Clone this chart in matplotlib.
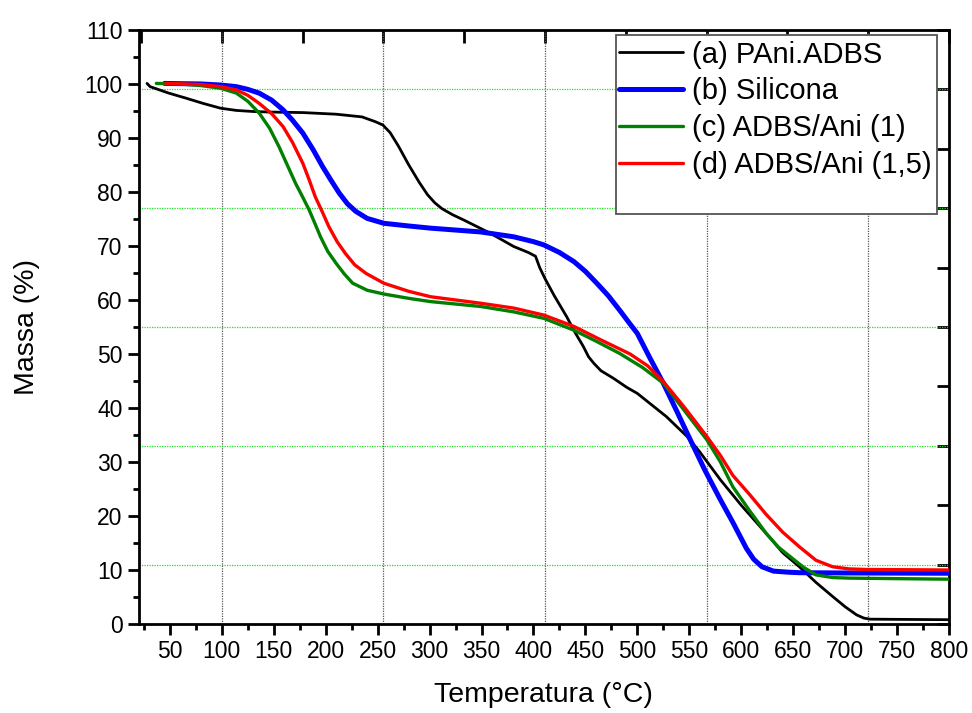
import numpy as np
import matplotlib
matplotlib.use('Agg')
from matplotlib import pyplot as plt
from matplotlib.patches import Rectangle
from matplotlib.ticker import MultipleLocator, NullFormatter

plt.rcParams['font.family'] = ['Liberation Sans', 'DejaVu Sans']

# (a) PAni.ADBS
t_a = [28, 31, 49, 65, 82, 99, 114, 130, 146, 178, 210, 235, 248, 255, 262, 270, 280, 290, 298,
       305, 312, 322, 333, 359, 381, 395, 402, 406, 411, 420, 432, 440, 448, 453, 458, 465, 477,
       490, 500, 528, 548, 560, 580, 600, 628, 640, 656, 672, 688, 700, 711, 718, 724, 760, 800]
m_a = [100.1, 99.5, 98.3, 97.4, 96.4, 95.5, 95.1, 94.9, 94.8, 94.7, 94.4, 93.9, 93.0, 92.4,
       91.0, 88.5, 85.0, 81.8, 79.5, 78.0, 76.9, 75.8, 74.8, 72.3, 69.9, 68.8, 68.1, 66.0, 64.0,
       60.8, 56.9, 54.0, 51.4, 49.5, 48.3, 46.9, 45.5, 43.8, 42.7, 38.4, 34.7, 31.9, 26.7, 22.0,
       15.9, 13.2, 10.6, 7.7, 5.1, 3.2, 1.7, 1.1, 0.9, 0.85, 0.8]

# (b) Silicona
t_b = [45, 80, 99, 114, 125, 136, 148, 159, 168, 178, 188, 197, 205, 213, 221, 229, 240, 256,
       280, 301, 349, 381, 400, 410, 425, 439, 450, 461, 472, 483, 492, 500, 512, 525, 538, 551,
       565, 580, 592, 605, 612, 620, 631, 645, 656, 700, 800]
m_b = [100.1, 100.0, 99.8, 99.5, 99.0, 98.3, 97.0, 95.2, 93.3, 90.9, 87.8, 84.7, 82.2, 79.8,
       77.8, 76.4, 75.1, 74.2, 73.7, 73.3, 72.6, 71.7, 70.8, 70.2, 68.8, 67.1, 65.3, 63.1, 60.8,
       58.1, 55.8, 53.8, 49.3, 44.6, 39.4, 34.1, 28.5, 23.0, 18.8, 14.0, 12.0, 10.6, 9.8, 9.6,
       9.5, 9.45, 9.4]

# (c) ADBS/Ani (1)
t_c = [37, 60, 80, 99, 114, 125, 136, 146, 155, 163, 171, 178, 184, 190, 195, 202, 210, 218,
       226, 240, 256, 280, 301, 349, 381, 410, 439, 460, 483, 505, 525, 545, 567, 580, 592, 608,
       624, 636, 647, 660, 672, 688, 704, 750, 800]
m_c = [100.1, 100.0, 99.7, 99.2, 98.3, 96.8, 94.6, 91.8, 88.4, 85.0, 81.6, 79.0, 76.7, 74.0,
       71.7, 69.0, 66.8, 64.8, 63.1, 61.8, 61.1, 60.3, 59.7, 58.8, 57.8, 56.6, 54.4, 52.4, 50.1,
       47.5, 44.6, 39.6, 34.1, 30.0, 25.4, 21.0, 16.8, 14.2, 12.5, 10.5, 9.1, 8.6, 8.5, 8.4, 8.3]

# (d) ADBS/Ani (1,5)
t_d = [46, 80, 99, 114, 125, 136, 148, 159, 168, 178, 184, 190, 197, 203, 211, 219, 228, 239,
       256, 280, 301, 349, 381, 410, 439, 465, 493, 510, 525, 545, 567, 580, 592, 608, 624, 640,
       656, 672, 688, 704, 720, 800]
m_d = [100.1, 99.9, 99.5, 98.9, 97.9, 96.4, 94.5, 92.1, 89.2, 85.3, 82.3, 79.1, 76.2, 73.6,
       70.8, 68.6, 66.5, 64.9, 63.1, 61.6, 60.6, 59.4, 58.5, 57.2, 55.1, 52.6, 50.0, 47.8, 44.9,
       40.2, 34.7, 31.2, 27.5, 24.0, 20.3, 17.0, 14.3, 11.8, 10.6, 10.2, 10.1, 10.0]

labels = ['(a) PAni.ADBS', '(b) Silicona', '(c) ADBS/Ani (1)', '(d) ADBS/Ani (1,5)']

fig = plt.figure(figsize=(9.72, 7.13), dpi=100)
ax = fig.add_axes([0.1427, 0.1248, 0.9763 - 0.1427, 0.958 - 0.1248])

# grid like the Origin plot: vertical from top axis, horizontal from right axis
top_ticks = 100 + np.arange(-1, 10) * 700 / 9
right_ticks = np.arange(0, 111, 11)
for xv in top_ticks[1::2]:
    ax.axvline(xv, color='#555555', lw=0.9, ls=(0, (1, 1)), zorder=1)
for yv in right_ticks[1::2]:
    ax.axhline(yv, color='#22dd22', lw=0.9, ls=(0, (1, 1)), zorder=1)

kw = dict(solid_joinstyle='round', solid_capstyle='round', zorder=3)
ax.plot(t_a, m_a, color='black', lw=2.0, label=labels[0], **kw)
ax.plot(t_b, m_b, color='#0000ff', lw=3.6, label=labels[1], **kw)
ax.plot(t_c, m_c, color='#007f00', lw=2.4, label=labels[2], **kw)
ax.plot(t_d, m_d, color='#ff0000', lw=2.4, label=labels[3], **kw)

ax.set_xlim(20, 800)
ax.set_ylim(0, 110)
ax.set_xticks(np.arange(50, 801, 50))
ax.xaxis.set_minor_locator(MultipleLocator(25))
ax.yaxis.set_major_locator(MultipleLocator(10))
ax.yaxis.set_minor_locator(MultipleLocator(5))
ax.tick_params(which='major', direction='out', length=8, width=2, labelsize=16.5)
ax.tick_params(which='minor', direction='out', length=4, width=2)
for s in ax.spines.values():
    s.set_linewidth(2)

top = ax.secondary_xaxis('top')
top.set_xticks(top_ticks[(top_ticks >= 20) & (top_ticks <= 800)])
top.xaxis.set_major_formatter(NullFormatter())
top.tick_params(direction='in', length=9, width=2)
right = ax.secondary_yaxis('right')
right.set_yticks(right_ticks)
right.yaxis.set_major_formatter(NullFormatter())
right.tick_params(direction='in', length=9, width=2)

ax.set_xlabel('Temperatura (°C)', fontsize=20.5, labelpad=14)
ax.set_ylabel('Massa (%)', fontsize=20.5, labelpad=32)

# legend box (Origin style, with empty space under the entries)
box = Rectangle((0.589, 0.69), 0.396, 0.3016, transform=ax.transAxes, facecolor='white',
                edgecolor='#555555', lw=1.3, zorder=9)
ax.add_patch(box)
leg = ax.legend(loc='upper left', bbox_to_anchor=(0.589, 0.987), fontsize=21, frameon=False,
                handlelength=2.2, handletextpad=0.3, labelspacing=0.3, borderpad=0.1,
                borderaxespad=0)
leg.set_zorder(10)

fig.savefig('out.png', dpi=100)
